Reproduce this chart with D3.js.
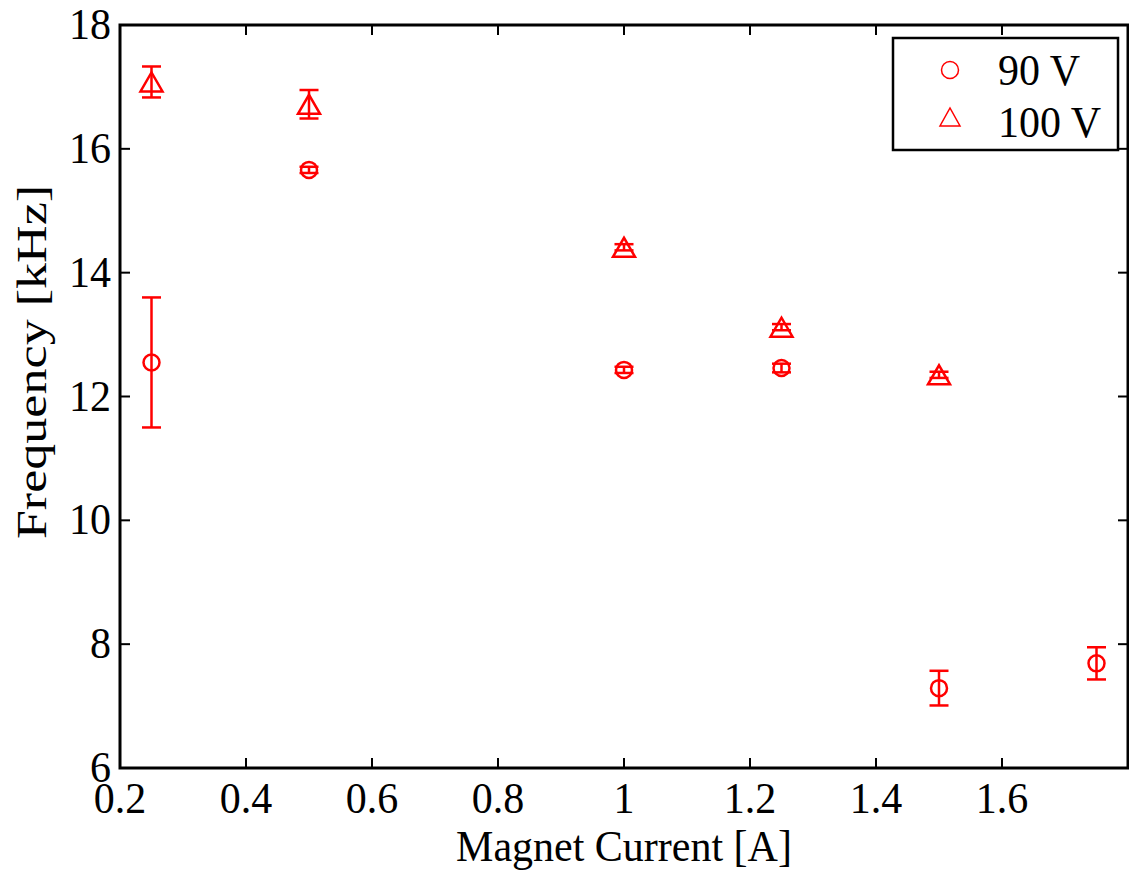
<!DOCTYPE html>
<html><head><meta charset="utf-8">
<script src="https://cdn.jsdelivr.net/npm/d3@7"></script>
<style>body{margin:0;background:#fff}svg{display:block}</style>
</head><body>
<svg id="c" width="1129" height="871"></svg>
<script>
const xTicks = [0.2,0.4,0.6,0.8,1.0,1.2,1.4,1.6,1.8];
const xTickLabels = ["0.2","0.4","0.6","0.8","1","1.2","1.4","1.6",""];
const yTicks = [6,8,10,12,14,16,18];
const yTickLabels = ["6","8","10","12","14","16","18"];
const current90 = [0.25,0.5,1.0,1.25,1.5,1.75];
const freq90 = [12.55,15.66,12.43,12.46,7.29,7.69];
const err90 = [1.05,0.05,0.05,0.07,0.28,0.26];
const current100 = [0.25,0.5,1.0,1.25,1.5];
const freq100 = [17.08,16.72,14.41,13.12,12.35];
const err100 = [0.25,0.23,0.05,0.05,0.05];
const seriesNames = ["90 V","100 V"];

const svg = d3.select("#c");
const L=120,R=1128,T=25,B=768;
const x = d3.scaleLinear().domain([0.2,1.8]).range([L,R]);
const y = d3.scaleLinear().domain([6,18]).range([B,T]);
const font = "'Liberation Serif','Times New Roman',serif";
const red = "#ff0000";
const sy = 1.06;

// box
svg.append("rect").attr("x",L).attr("y",T).attr("width",R-L).attr("height",B-T)
  .attr("fill","none").attr("stroke","#000").attr("stroke-width",3);

// ticks inward
const tl = 10;
const g = svg.append("g").attr("stroke","#000").attr("stroke-width",2);
xTicks.forEach(v=>{
  g.append("line").attr("x1",x(v)).attr("x2",x(v)).attr("y1",B).attr("y2",B-tl);
  g.append("line").attr("x1",x(v)).attr("x2",x(v)).attr("y1",T).attr("y2",T+tl);
});
yTicks.forEach(v=>{
  g.append("line").attr("y1",y(v)).attr("y2",y(v)).attr("x1",L).attr("x2",L+tl);
  g.append("line").attr("y1",y(v)).attr("y2",y(v)).attr("x1",R).attr("x2",R-tl);
});

function txt(xp,yp,s,anchor,size){
  return svg.append("text").attr("transform",`translate(${xp},${yp}) scale(1,${sy})`)
    .attr("text-anchor",anchor).attr("font-family",font).attr("font-size",size||42)
    .attr("fill","#000").text(s);
}
xTicks.forEach((v,i)=>{ if(xTickLabels[i]) txt(x(v),813,xTickLabels[i],"middle"); });
yTicks.forEach((v,i)=>{ txt(111,y(v)+14,yTickLabels[i],"end"); });

txt(624,861,"Magnet Current [A]","middle");

svg.append("text").attr("transform",`translate(46,362) scale(1,1.24) rotate(-90)`)
  .attr("text-anchor","middle").attr("font-family",font).attr("font-size",42).text("Frequency [kHz]");

// error bars
function errbars(xs,ys,es){
  const eg = svg.append("g").attr("stroke",red).attr("stroke-width",2.5).attr("fill","none");
  xs.forEach((xv,i)=>{
    const cx=x(xv), y1=y(ys[i]+es[i]), y0=y(ys[i]-es[i]);
    eg.append("line").attr("x1",cx).attr("x2",cx).attr("y1",y1).attr("y2",y0);
    eg.append("line").attr("x1",cx-9.5).attr("x2",cx+9.5).attr("y1",y1).attr("y2",y1);
    eg.append("line").attr("x1",cx-9.5).attr("x2",cx+9.5).attr("y1",y0).attr("y2",y0);
  });
}
errbars(current90,freq90,err90);
errbars(current100,freq100,err100);

const triPath = (cx,cy,w,h)=>`M${cx-w/2},${cy+h/2}L${cx+w/2},${cy+h/2}L${cx},${cy-h/2}Z`;
svg.append("g").selectAll("circle").data(current90).join("circle")
  .attr("cx",d=>x(d)).attr("cy",(d,i)=>y(freq90[i])).attr("r",8)
  .attr("fill","none").attr("stroke",red).attr("stroke-width",2.5);
svg.append("g").selectAll("path").data(current100).join("path")
  .attr("d",(d,i)=>triPath(x(d),y(freq100[i]),22,19))
  .attr("fill","none").attr("stroke",red).attr("stroke-width",2.5).attr("stroke-linejoin","miter");

// legend
svg.append("rect").attr("x",893).attr("y",38).attr("width",225).attr("height",112)
  .attr("fill","#fff").attr("stroke","#000").attr("stroke-width",2.5);
svg.append("circle").attr("cx",950).attr("cy",70).attr("r",8.5).attr("fill","none").attr("stroke",red).attr("stroke-width",1.5);
svg.append("path").attr("d",triPath(950,117,20,18)).attr("fill","none").attr("stroke",red).attr("stroke-width",1.5);
txt(998,85,seriesNames[0],"start");
txt(998,137,seriesNames[1],"start");
</script>
</body></html>
